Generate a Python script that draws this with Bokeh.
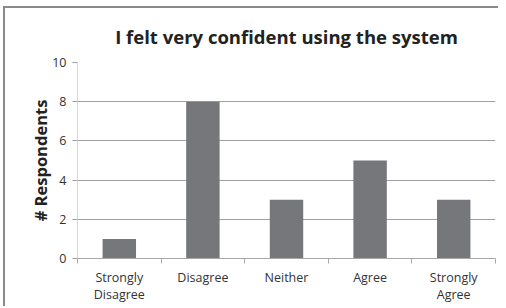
from bokeh.plotting import figure
from bokeh.models import FixedTicker, Range1d, ColumnDataSource
from bokeh.embed import file_html
from bokeh.resources import INLINE

categories = ["Strongly\nDisagree", "Disagree", "Neither", "Agree", "Strongly\nAgree"]
counts = [1, 8, 3, 5, 3]
y_ticks = [0, 2, 4, 6, 8, 10]

xs = [i + 0.5 for i in range(len(categories))]
bounds = list(range(len(categories) + 1))
src = ColumnDataSource(dict(x=xs, top=counts))

p = figure(width=495, height=300, output_backend="svg", toolbar_location=None,
           x_range=Range1d(0, len(categories)), y_range=Range1d(0, 10),
           min_border_left=72, min_border_right=5, min_border_top=54, min_border_bottom=50)
p.styles = {"border-top": "2px solid #8a8a8a", "border-left": "2px solid #8a8a8a",
            "margin-left": "3px", "margin-top": "6px"}

p.title.text = "I felt very confident using the system"
p.title.text_font = "Open Sans"
p.title.text_font_size = "18.5px"
p.title.text_font_style = "bold"
p.title.text_color = "#222222"
p.title.align = "center"
p.title.offset = 0
p.title.standoff = 27

p.vbar(x="x", top="top", width=0.4, bottom=0, source=src, fill_color="#76777b", line_color=None)

p.outline_line_color = None
p.xgrid.grid_line_color = None
p.ygrid.grid_line_color = "#a0a0a0"
p.ygrid.grid_line_width = 1

p.xaxis.ticker = FixedTicker(ticks=xs, minor_ticks=bounds)
p.xaxis.major_label_overrides = {x: c for x, c in zip(xs, categories)}
p.xaxis.major_tick_line_color = None
p.xaxis.minor_tick_line_color = "#a8a8a8"
p.xaxis.minor_tick_out = 5
p.xaxis.minor_tick_in = 0
p.xaxis.axis_line_color = "#a8a8a8"
p.xaxis.major_label_text_font = "Open Sans"
p.xaxis.major_label_text_font_size = "12.5px"
p.xaxis.major_label_text_color = "#333333"
p.xaxis.major_label_text_line_height = 1.0
p.xaxis.major_label_standoff = 4

p.yaxis.ticker = FixedTicker(ticks=y_ticks, minor_ticks=[])
p.yaxis.major_tick_line_color = "#a0a0a0"
p.yaxis.major_tick_out = 5
p.yaxis.major_tick_in = 0
p.yaxis.axis_line_color = "#d8d8d8"
p.yaxis.major_label_text_font = "Open Sans"
p.yaxis.major_label_text_font_size = "12.5px"
p.yaxis.major_label_text_color = "#333333"
p.yaxis.major_label_standoff = 6
p.yaxis.axis_label = "# Respondents"
p.yaxis.axis_label_text_font = "Open Sans"
p.yaxis.axis_label_text_font_size = "16.5px"
p.yaxis.axis_label_text_font_style = "bold"
p.yaxis.axis_label_text_color = "#222222"
p.yaxis.axis_label_standoff = -3

open("out.html", "w").write(file_html(p, INLINE))
